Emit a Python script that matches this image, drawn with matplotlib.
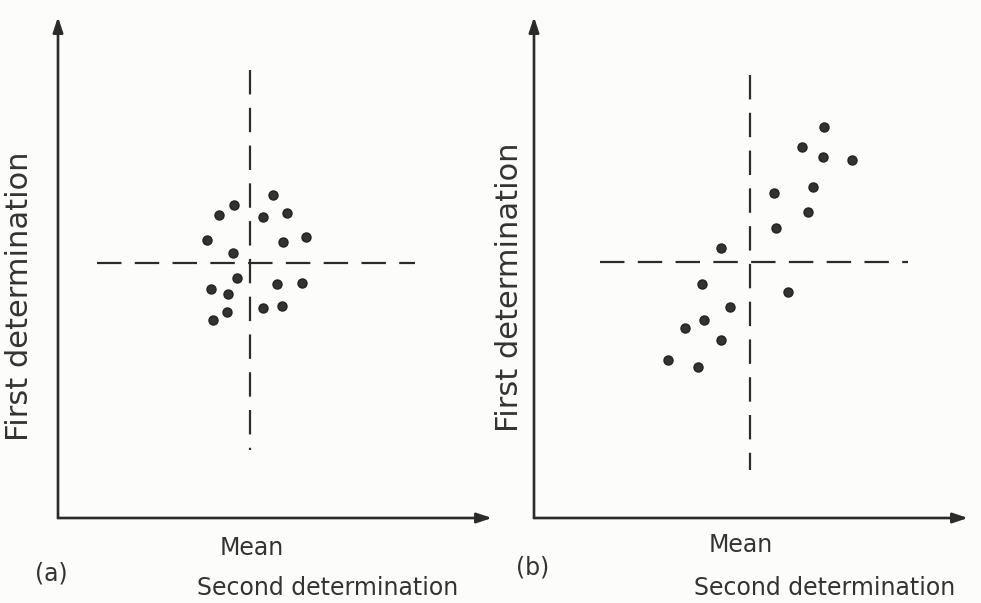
import matplotlib
matplotlib.use("Agg")
import matplotlib.pyplot as plt

# panel (a): points scattered around the mean, no correlation
a_x = [4.95, 4.06, 3.71, 4.72, 5.28, 3.43, 5.18, 5.71, 4.03,
       4.12, 3.53, 3.92, 5.05, 5.62, 3.89, 3.57, 4.72, 5.16]
a_y = [6.45, 6.25, 6.05, 6.01, 6.09, 5.55, 5.51, 5.61, 5.29,
       4.79, 4.57, 4.47, 4.67, 4.69, 4.11, 3.95, 4.19, 4.23]
a_mean = (4.42, 5.09)
a_vline = (1.36, 8.94)   # extent of the vertical mean line
a_hline = (0.90, 8.23)   # extent of the horizontal mean line

# panel (b): points along a diagonal (systematic error)
b_x = [6.68, 6.18, 6.66, 7.33, 6.43, 5.53, 6.31, 5.58, 4.31,
       3.87, 5.85, 4.52, 3.92, 3.48, 4.31, 3.09, 3.78]
b_y = [7.80, 7.41, 7.21, 7.15, 6.61, 6.49, 6.11, 5.79, 5.39,
       4.67, 4.51, 4.21, 3.95, 3.79, 3.55, 3.15, 3.01]
b_mean = (4.98, 5.11)
b_vline = (0.96, 8.84)
b_hline = (1.52, 8.62)

ylabel = "First determination"
xlabel = "Second determination"
mean_label = "Mean"

ink = "#2b2b2b"
W, H = 981, 603

fig = plt.figure(figsize=(W / 100, H / 100), dpi=100)
fig.patch.set_facecolor("#fcfcfa")


def panel(left_px, xs, ys, mean, vline, hline):
    ax = fig.add_axes([left_px / W, (H - 518) / H, 434 / W, 501 / H])
    ax.set_xlim(0, 10)
    ax.set_ylim(0, 10)
    ax.axis("off")
    arrow = dict(arrowstyle="-|>,head_length=0.9,head_width=0.3", lw=1.9,
                 color=ink, shrinkA=0, shrinkB=0)
    ax.annotate("", xy=(0, 1), xytext=(0, 0), xycoords="axes fraction",
                arrowprops=arrow, annotation_clip=False)
    ax.annotate("", xy=(1, 0), xytext=(0, 0), xycoords="axes fraction",
                arrowprops=arrow, annotation_clip=False)
    # draw top-down so the line starts with a full dash
    ax.plot([mean[0], mean[0]], vline[::-1], color=ink, lw=1.6, dashes=(11, 6))
    ax.plot(hline, [mean[1], mean[1]], color=ink, lw=1.6, dashes=(11, 6))
    ax.plot(xs, ys, "o", color="#333333", ms=6.5, mec="#222222")
    return ax


panel(58, a_x, a_y, a_mean, a_vline, a_hline)
panel(534, b_x, b_y, b_mean, b_vline, b_hline)

txt = dict(color="#333333", fontsize=17, family="DejaVu Sans",
           ha="center", va="center")
ytxt = dict(txt, fontsize=22)
# panel (a) texts
fig.text(20 / W, 1 - 296 / H, ylabel, rotation=90, **ytxt)
fig.text(252 / W, 1 - 548 / H, mean_label, **txt)
fig.text(328 / W, 1 - 588 / H, xlabel, **txt)
fig.text(51 / W, 1 - 573 / H, "(a)", **txt)
# panel (b) texts
fig.text(510 / W, 1 - 287 / H, ylabel, rotation=90, **ytxt)
fig.text(741 / W, 1 - 545 / H, mean_label, **txt)
fig.text(825 / W, 1 - 588 / H, xlabel, **txt)
fig.text(533 / W, 1 - 568 / H, "(b)", **txt)

fig.savefig("out.png", dpi=100, facecolor=fig.get_facecolor())
